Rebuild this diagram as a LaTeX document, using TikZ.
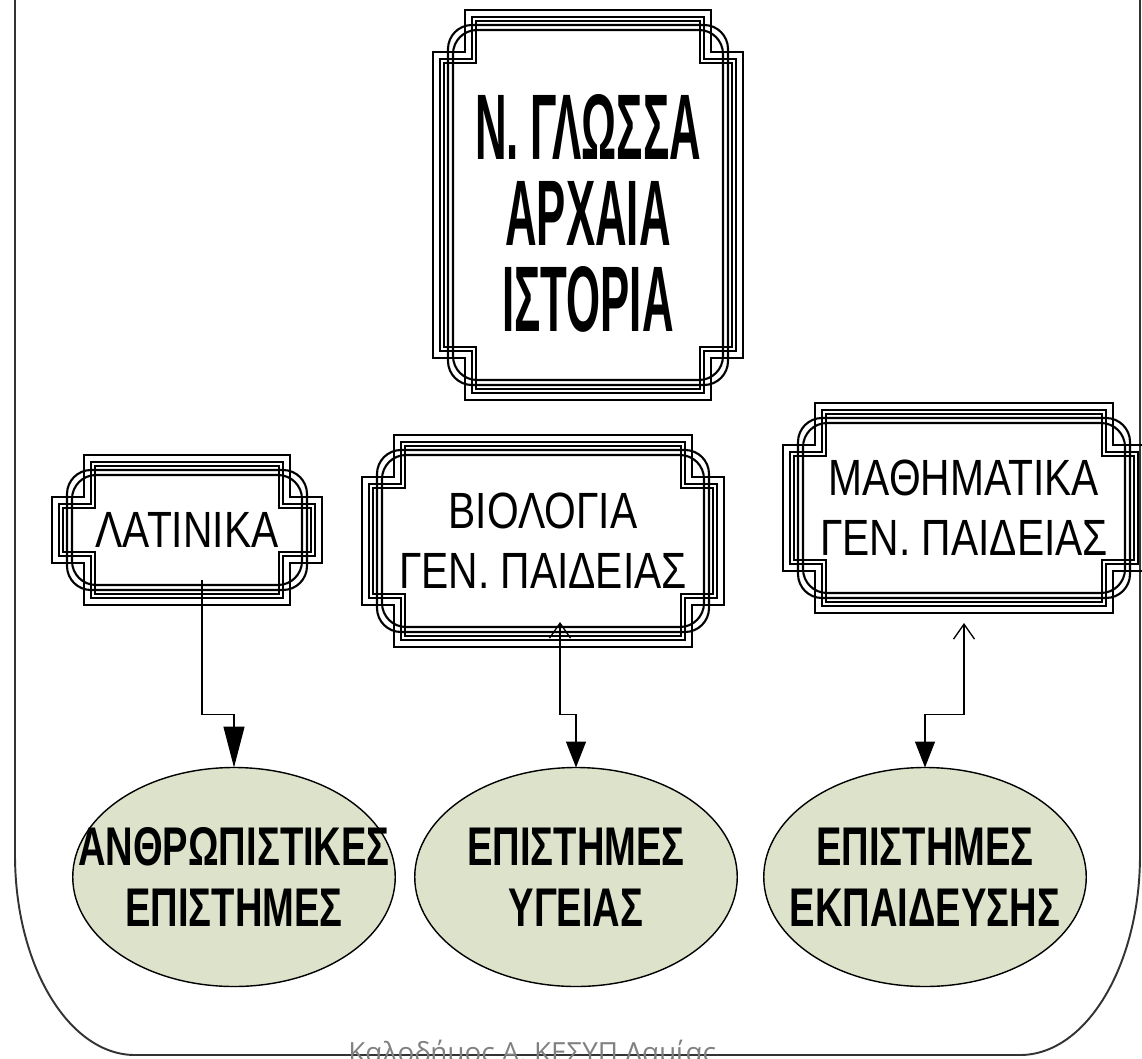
\documentclass[tikz,border=0pt]{standalone}
\usepackage{fontspec}
\setmainfont{Liberation Sans}
\newfontfamily\tallfont[FakeStretch=0.47]{Liberation Sans}
\newfontfamily\narrowfont[FakeStretch=0.80]{Liberation Sans}
\newfontfamily\ovalfont[FakeStretch=0.70]{Liberation Sans}
\newfontfamily\footfont{Open Sans}
\usepackage{tikz}
\usetikzlibrary{calc}
\usetikzlibrary{arrows.meta}
\usetikzlibrary{shapes.geometric}
\definecolor{ovalgreen}{RGB}{221,226,203}
\tikzstyle{plaquenode}=[black, shape=rectangle, inner sep=0pt, outer sep=0pt, align=center]
\tikzstyle{plaqueline}=[draw=black, line width=1.2pt]
\tikzstyle{ovalnode}=[black, draw=black, line width=0.8pt, shape=ellipse, fill=ovalgreen, inner sep=0pt, outer sep=0pt, minimum width=6.45cm, minimum height=4.38cm]
\tikzstyle{ovaltext}=[black, inner sep=0pt, align=center, font=\ovalfont\bfseries\fontsize{31}{35}\selectfont]
% decorated frame round a plaque node
\newcommand{\plaque}[1]{%
  \foreach \d in {0cm,0.14cm,0.22cm}{%
    \draw[plaqueline] let \p1=(#1.north west), \p2=(#1.south east) in
      (\x1+0.64cm+\d,\y1-\d) -- (\x2-0.64cm-\d,\y1-\d) -- (\x2-0.64cm-\d,\y1-0.84cm-\d)
      -- (\x2-\d,\y1-0.84cm-\d) -- (\x2-\d,\y2+0.84cm+\d) -- (\x2-0.64cm-\d,\y2+0.84cm+\d)
      -- (\x2-0.64cm-\d,\y2+\d) -- (\x1+0.64cm+\d,\y2+\d) -- (\x1+0.64cm+\d,\y2+0.84cm+\d)
      -- (\x1+\d,\y2+0.84cm+\d) -- (\x1+\d,\y1-0.84cm-\d) -- (\x1+0.64cm+\d,\y1-0.84cm-\d) -- cycle;}
  \foreach \d in {0.30cm,0.40cm}{%
    \draw[plaqueline, rounded corners=0.48cm] let \p1=(#1.north west), \p2=(#1.south east) in
      (\x1+\d,\y1-\d) rectangle (\x2-\d,\y2+\d);}
}
\begin{document}
\begin{tikzpicture}
\useasboundingbox (0,0) rectangle (22.84,-21.16);
% page frame
\draw[black!80, line width=1.1pt] (0.30,1) -- (0.30,-17.10) arc[start angle=180, end angle=270, x radius=2.4cm, y radius=4cm]
  -- (20.40,-21.10) arc[start angle=270, end angle=360, x radius=2.4cm, y radius=4cm] -- (22.80,1);

\node [plaquenode, minimum width=6.2cm, minimum height=7.8cm, font=\tallfont\bfseries\fontsize{53}{49}\selectfont] (lang) at (11.76,-4.10) {\rule{0pt}{47pt}Ν. ΓΛΩΣΣΑ\\ΑΡΧΑΙΑ\\ΙΣΤΟΡΙΑ};
\node [plaquenode, minimum width=5.4cm, minimum height=3.0cm, font=\narrowfont\fontsize{29}{34}\selectfont] (lat) at (3.74,-10.60) {ΛΑΤΙΝΙΚΑ};
\node [plaquenode, minimum width=7.24cm, minimum height=4.24cm, font=\narrowfont\fontsize{29}{34}\selectfont] (bio) at (10.86,-10.82) {ΒΙΟΛΟΓΙΑ\\ΓΕΝ. ΠΑΙΔΕΙΑΣ};
\node [plaquenode, minimum width=7.24cm, minimum height=4.2cm, font=\narrowfont\fontsize{29}{34}\selectfont] (math) at (19.28,-10.16) {ΜΑΘΗΜΑΤΙΚΑ\\ΓΕΝ. ΠΑΙΔΕΙΑΣ};
\plaque{lang}
\plaque{lat}
\plaque{bio}
\plaque{math}

\node [ovalnode, label={[ovaltext]center:{ΑΝΘΡΩΠΙΣΤΙΚΕΣ\\ΕΠΙΣΤΗΜΕΣ}}] (anthr) at (4.68,-17.54) {};
\node [ovalnode, label={[ovaltext]center:{ΕΠΙΣΤΗΜΕΣ\\ΥΓΕΙΑΣ}}] (health) at (11.52,-17.54) {};
\node [ovalnode, label={[ovaltext]center:{ΕΠΙΣΤΗΜΕΣ\\ΕΚΠΑΙΔΕΥΣΗΣ}}] (edu) at (18.50,-17.54) {};

\draw[-{Triangle[length=0.82cm, width=0.42cm]}, line width=0.75pt, color=black] ([xshift=0.30cm, yshift=0.50cm]lat.south) |- ([yshift=1.06cm]anthr.north) -- (anthr.north);
\draw[{Straight Barb[length=0.3cm, width=0.42cm]}-{Triangle[length=0.52cm, width=0.40cm]}, line width=0.75pt, color=black] ([xshift=0.34cm, yshift=0.50cm]bio.south) |- ([yshift=1.06cm]health.north) -- (health.north);
\draw[{Straight Barb[length=0.3cm, width=0.42cm]}-{Triangle[length=0.52cm, width=0.40cm]}, line width=0.75pt, color=black] ([yshift=-0.20cm]math.south) |- ([yshift=1.06cm]edu.north) -- (edu.north);

\node [anchor=base west, inner sep=0pt, text=black!50, font=\footfont\fontsize{15.8}{18}\selectfont] (author) at (6.96,-21.24) {Καλοδήμος Α. ΚΕΣΥΠ Λαμίας};
\end{tikzpicture}
\end{document}
